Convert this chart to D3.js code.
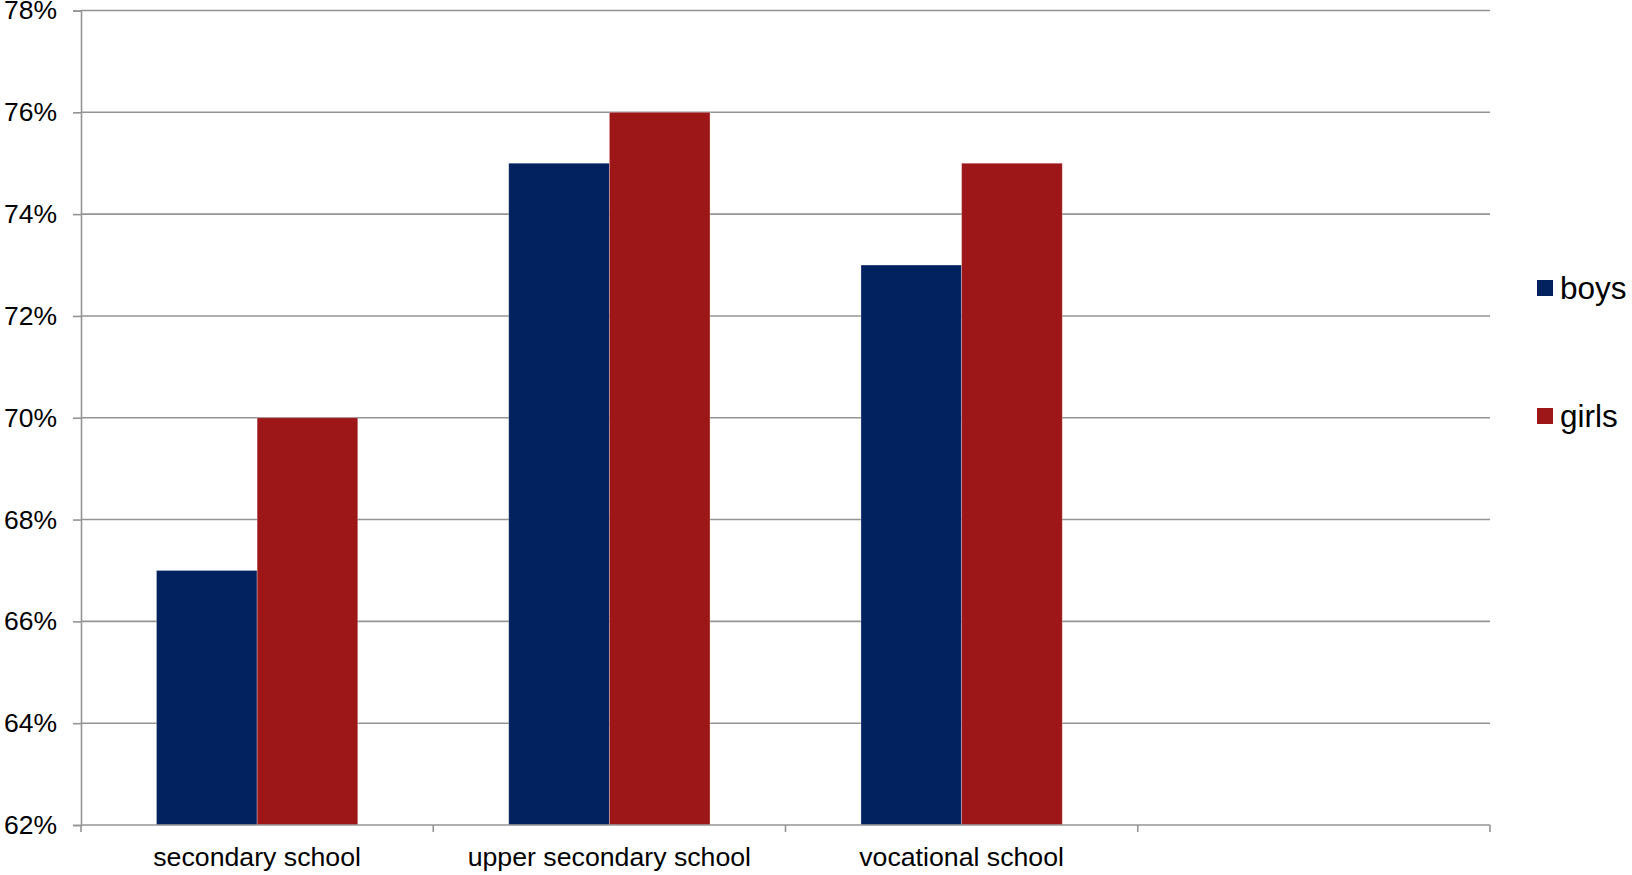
<!DOCTYPE html>
<html>
<head>
<meta charset="utf-8">
<script src="https://cdn.jsdelivr.net/npm/d3@7"></script>
<style>
  html, body { margin: 0; padding: 0; background: #fff; }
  svg { display: block; font-family: "Liberation Sans", Arial, sans-serif; }
</style>
</head>
<body>
<svg id="chart" width="1632" height="875"></svg>
<script>
// School types (the last slot is an empty category)
const categories = ["secondary school", "upper secondary school", "vocational school", ""];
const seriesNames = ["boys", "girls"];
const boys = [67, 75, 73, null];
const girls = [70, 76, 75, null];
const yTicks = [62, 64, 66, 68, 70, 72, 74, 76, 78];
const colors = ["#01215F", "#9D1719"];

const svg = d3.select("#chart");
const margin = { left: 81, right: 1490, top: 10.5, bottom: 825 };

const x = d3.scaleBand().domain(categories).range([margin.left, margin.right]).padding(0);
const barW = x.bandwidth() / 3.5;
const xInner = d3.scaleBand().domain(seriesNames)
  .range([0.75 * barW, 2.75 * barW]).padding(0);
const y = d3.scaleLinear().domain([62, 78]).range([margin.bottom, margin.top]);

// Horizontal gridlines
svg.append("g").selectAll("line").data(yTicks.slice(1)).join("line")
  .attr("x1", margin.left).attr("x2", margin.right)
  .attr("y1", d => y(d)).attr("y2", d => y(d))
  .attr("stroke", "#949494").attr("stroke-width", 1.6);

// Bars
const rows = categories.map((c, i) => ({ c, vals: [boys[i], girls[i]] }));
const groups = svg.append("g").selectAll("g").data(rows).join("g")
  .attr("transform", d => `translate(${x(d.c)},0)`);
groups.selectAll("rect")
  .data(d => d.vals.map((v, j) => ({ v, name: seriesNames[j], j })).filter(e => e.v != null))
  .join("rect")
  .attr("x", d => xInner(d.name))
  .attr("width", xInner.bandwidth())
  .attr("y", d => y(d.v))
  .attr("height", d => y(62) - y(d.v))
  .attr("fill", d => colors[d.j])
  .attr("stroke", "rgba(255,255,255,0.35)")
  .attr("stroke-width", 0.8);

// Y axis
const yAxis = d3.axisLeft(y).tickValues(yTicks).tickSize(8).tickPadding(16)
  .tickFormat(d => d + "%");
const gy = svg.append("g").attr("transform", `translate(${margin.left},0)`).call(yAxis);
gy.select(".domain").attr("stroke", "#949494").attr("stroke-width", 1.6);
gy.selectAll(".tick line").attr("stroke", "#949494").attr("stroke-width", 1.6);
gy.selectAll(".tick text").attr("font-size", 26.5).attr("fill", "#000")
  .attr("font-family", "Liberation Sans, Arial, sans-serif");

// X axis with ticks at category boundaries
const gx = svg.append("g").attr("transform", `translate(0,${margin.bottom})`);
gx.append("line").attr("x1", margin.left).attr("x2", margin.right)
  .attr("stroke", "#949494").attr("stroke-width", 1.6);
const bounds = categories.map(c => x(c)).concat([margin.right]);
gx.selectAll("line.tk").data(bounds).join("line").attr("class", "tk")
  .attr("x1", d => d).attr("x2", d => d).attr("y1", 0).attr("y2", 7)
  .attr("stroke", "#949494").attr("stroke-width", 1.6);
gx.selectAll("text").data(categories).join("text")
  .attr("x", d => x(d) + x.bandwidth() / 2).attr("y", 41)
  .attr("text-anchor", "middle").attr("font-size", 26.7).attr("fill", "#000")
  .text(d => d);

// Legend
const legend = svg.append("g");
const legendY = [288, 416];
seriesNames.forEach((name, i) => {
  legend.append("rect").attr("x", 1537).attr("y", legendY[i] - 8)
    .attr("width", 16).attr("height", 16).attr("fill", colors[i]);
  legend.append("text").attr("x", 1560).attr("y", legendY[i])
    .attr("dominant-baseline", "central").attr("font-size", 31.5).attr("fill", "#000")
    .text(name);
});
</script>
</body>
</html>
